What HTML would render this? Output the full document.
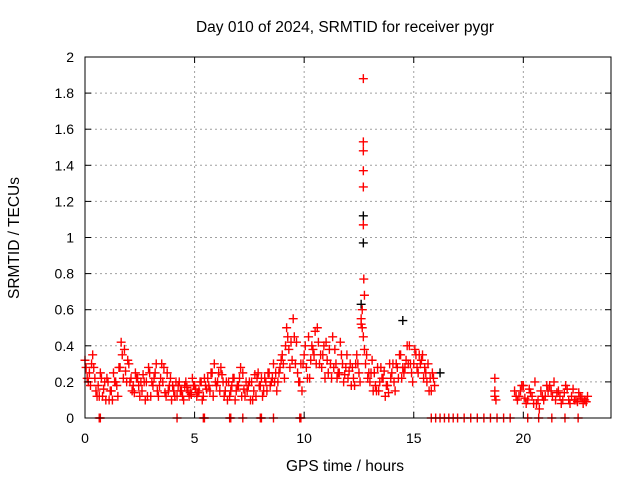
<!DOCTYPE html>
<html><head><meta charset="utf-8"><style>
body{margin:0;background:#fff;}
svg{display:block;font-family:"Liberation Sans",sans-serif;}
</style></head><body>
<svg id="chart" width="640" height="480" viewBox="0 0 640 480">
<text x="345" y="32" font-size="15.5" text-anchor="middle">Day 010 of 2024, SRMTID for receiver pygr</text>
<text x="345" y="471" font-size="15.5" text-anchor="middle">GPS time / hours</text>
<text x="19" y="238" font-size="15.5" text-anchor="middle" transform="rotate(-90 19 238)">SRMTID / TECUs</text>
<g id="grid"></g>
<g id="marks"></g>
<rect x="85" y="57" width="526" height="361" fill="none" stroke="#000" stroke-width="1"/>
<g id="ticks"></g>
</svg>
<script>
const xTicks=[0,5,10,15,20];
const yTicks=[0,0.2,0.4,0.6,0.8,1,1.2,1.4,1.6,1.8,2];
const yTickLabels=["0","0.2","0.4","0.6","0.8","1","1.2","1.4","1.6","1.8","2"];
const tMain=[0,0.2,0.4,0.6,0.8,1,1.2,1.4,1.6,1.8,2,2.2,2.4,2.6,2.8,3,3.2,3.4,3.6,3.8,4,4.2,4.4,4.6,4.8,5,5.2,5.4,5.6,5.8,6,6.2,6.4,6.6,6.8,7,7.2,7.4,7.6,7.8,8,8.2,8.4,8.6,8.8,9,9.2,9.4,9.6,9.8,10,10.2,10.4,10.6,10.8,11,11.2,11.4,11.6,11.8,12,12.2,12.4,12.6,12.8,13,13.2,13.4,13.6,13.8,14,14.2,14.4,14.6,14.8,15,15.2,15.4,15.6,15.8];
const v1=[0.32,0.25,0.28,0.18,0.12,0.22,0.15,0.2,0.28,0.38,0.3,0.18,0.22,0.15,0.2,0.12,0.25,0.18,0.28,0.15,0.18,0.12,0.15,0.2,0.14,0.18,0.15,0.12,0.22,0.25,0.18,0.28,0.15,0.12,0.22,0.18,0.25,0.15,0.2,0.12,0.18,0.22,0.25,0.3,0.2,0.35,0.5,0.42,0.3,0.2,0.35,0.45,0.38,0.5,0.28,0.42,0.3,0.38,0.25,0.2,0.22,0.28,0.35,0.55,0.3,0.2,0.25,0.15,0.22,0.18,0.25,0.3,0.35,0.28,0.4,0.3,0.25,0.35,0.2,0.15];
const v2=[0.22,0.3,0.15,0.25,0.2,0.1,0.25,0.12,0.35,0.2,0.22,0.25,0.12,0.2,0.28,0.18,0.15,0.3,0.12,0.22,0.12,0.2,0.1,0.15,0.22,0.12,0.2,0.18,0.15,0.3,0.25,0.2,0.1,0.18,0.15,0.28,0.12,0.2,0.15,0.25,0.12,0.15,0.2,0.25,0.28,0.22,0.38,0.55,0.25,0.15,0.28,0.32,0.48,0.3,0.4,0.25,0.45,0.22,0.35,0.28,0.3,0.18,0.25,0.45,0.22,0.32,0.15,0.28,0.12,0.3,0.2,0.22,0.28,0.4,0.25,0.35,0.3,0.28,0.15,0.22];
const v3=[0.28,0.18,0.22,0.12,0.16,0.2,0.1,0.18,0.42,0.26,0.2,0.14,0.18,0.24,0.12,0.2,0.3,0.22,0.14,0.18,0.15,0.18,0.12,0.17,0.13,0.16,0.2,0.22,0.18,0.12,0.2,0.24,0.2,0.15,0.1,0.22,0.16,0.18,0.1,0.22,0.22,0.2,0.18,0.2,0.25,0.3,0.45,0.32,0.42,0.3,0.4,0.22,0.35,0.42,0.35,0.32,0.22,0.3,0.42,0.24,0.26,0.22,0.3,0.5,0.35,0.25,0.18,0.2,0.26,0.14,0.3,0.28,0.22,0.32,0.3,0.38,0.35,0.22,0.3,0.25];
const v4=[0.2,0.35,0.12,0.22,0.1,0.15,0.2,0.28,0.22,0.32,0.15,0.22,0.2,0.1,0.25,0.22,0.12,0.2,0.25,0.1,0.2,0.15,0.18,0.12,0.18,0.14,0.1,0.16,0.25,0.2,0.15,0.12,0.2,0.22,0.18,0.12,0.2,0.1,0.24,0.18,0.15,0.25,0.22,0.15,0.32,0.4,0.28,0.45,0.2,0.3,0.22,0.4,0.3,0.35,0.22,0.38,0.28,0.25,0.3,0.35,0.18,0.3,0.2,0.38,0.25,0.15,0.28,0.22,0.18,0.22,0.15,0.35,0.25,0.3,0.2,0.28,0.32,0.25,0.22,0.18];
const tLate=[19.6,19.8,20,20.2,20.4,20.6,20.8,21,21.2,21.4,21.6,21.8,22,22.2,22.4,22.6,22.8];
const vLate1=[0.15,0.12,0.18,0.1,0.12,0.08,0.15,0.12,0.18,0.2,0.15,0.1,0.16,0.12,0.1,0.12,0.1];
const vLate2=[0.1,0.18,0.08,0.14,0.2,0.05,0.1,0.15,0.12,0.14,0.08,0.18,0.08,0.1,0.14,0.08,0.12];
const vLate3=[0.12,0.15,0.11,0.16,0.08,0.1,0.12,0.18,0.15,0.1,0.12,0.14,0.1,0.16,0.09,0.11,0.09];
const tSpike=[12.7,12.7,12.7,12.7,12.7,12.7,12.72,12.75,12.65,12.6,18.7,18.7,18.7,18.75];
const vSpike=[1.88,1.53,1.48,1.37,1.28,1.07,0.77,0.68,0.6,0.52,0.22,0.12,0.15,0.1];
const tZero=[0.65,0.7,4.2,5.4,5.45,6.6,6.65,7.2,8.0,8.05,8.6,9.8,9.85,15.8,16.0,16.2,16.4,16.6,16.8,17.0,17.3,17.6,17.9,18.2,18.5,18.8,19.1,19.4,20.2,20.7,21.3,21.9,22.5];
const tBlack=[12.7,12.7,12.6,16.2,14.5];
const vBlack=[1.12,0.97,0.63,0.25,0.54];

const X0=85,X1=611,Y0=418,Y1=57;
const xs=t=>X0+t*(X1-X0)/24;
const ys=v=>Y0-v*(Y0-Y1)/2;
const NS="http://www.w3.org/2000/svg";
const grid=document.getElementById('grid'),ticks=document.getElementById('ticks'),marks=document.getElementById('marks');
function ln(g,x1,y1,x2,y2,st,dash){const l=document.createElementNS(NS,'line');l.setAttribute('x1',x1);l.setAttribute('y1',y1);l.setAttribute('x2',x2);l.setAttribute('y2',y2);l.setAttribute('stroke',st);if(dash)l.setAttribute('stroke-dasharray',dash);g.appendChild(l);return l;}
yTicks.forEach((v,i)=>{const y=ys(v);
 if(i>0&&i<yTicks.length-1){const g=ln(grid,X0,y,X1,y,'#a0a0a0','2,3');}
 ln(ticks,X0,y,X0+6,y,'#000');ln(ticks,X1,y,X1-6,y,'#000');
 const t=document.createElementNS(NS,'text');t.setAttribute('x',X0-11);t.setAttribute('y',y+5);t.setAttribute('font-size','14');t.setAttribute('text-anchor','end');t.textContent=yTickLabels[i];
 
 
 ticks.appendChild(t);});
xTicks.forEach(v=>{const x=xs(v);
 if(v>0){const g=ln(grid,x,Y0,x,Y1,'#a0a0a0','2,3');}
 ln(ticks,x,Y0,x,Y0-6,'#000');ln(ticks,x,Y1,x,Y1+6,'#000');
 const t=document.createElementNS(NS,'text');t.setAttribute('x',x);t.setAttribute('y',Y0+25);t.setAttribute('font-size','14');t.setAttribute('text-anchor','middle');t.textContent=String(v);
 
 
 ticks.appendChild(t);});
function plus(t,v,c){const x=xs(t),y=ys(v);const p=document.createElementNS(NS,'path');
 p.setAttribute('d',`M${x-4.5},${y}H${x+4.5}M${x},${y-4.5}V${y+4.5}`);p.setAttribute('stroke',c);p.setAttribute('stroke-width','1.4');p.setAttribute('fill','none');
 
 
 marks.appendChild(p);}
tBlack.forEach((t,i)=>plus(t,vBlack[i],'#000'));
tMain.forEach((t,i)=>{plus(t,v1[i],'#f00');plus(t+0.05,v3[i],'#f00');plus(t+0.1,v2[i],'#f00');plus(t+0.15,v4[i],'#f00');});
tLate.forEach((t,i)=>{plus(t,vLate1[i],'#f00');plus(t+0.07,vLate3[i],'#f00');plus(t+0.13,vLate2[i],'#f00');});
tSpike.forEach((t,i)=>plus(t,vSpike[i],'#f00'));
tZero.forEach(t=>plus(t,0,'#f00'));
</script>
</body></html>
